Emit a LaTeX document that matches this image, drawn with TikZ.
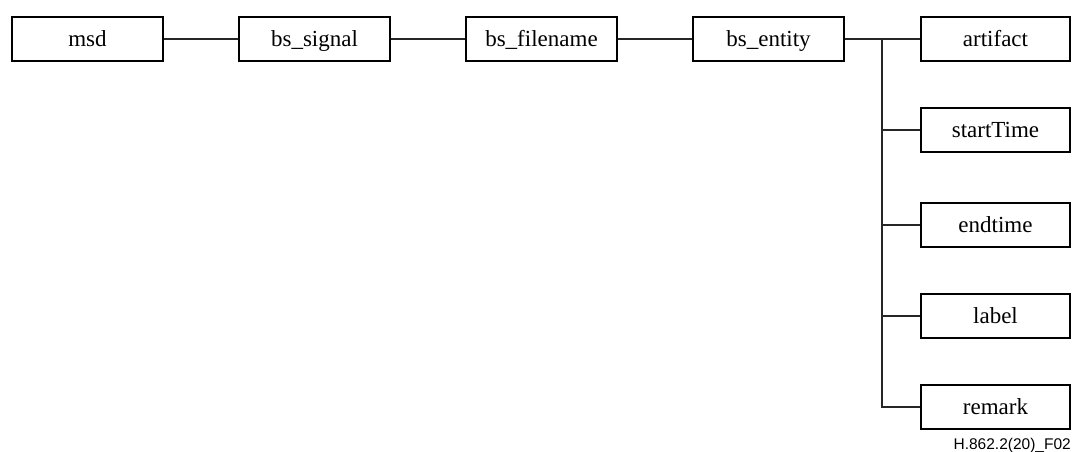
\documentclass[tikz,border=0pt]{standalone}
\usepackage{fontspec}
\setmainfont{Liberation Serif}
\newfontfamily\labelfont{Liberation Sans}
\begin{document}
\begin{tikzpicture}[x=1pt,y=-1pt,
  box/.style={draw=black,line width=2.6pt,minimum width=151pt,minimum height=44pt,inner sep=0pt,text height=20pt,text depth=4.5pt,font=\fontsize{23}{26}\selectfont},
  conn/.style={draw=black!85,line width=1.4pt}]
\useasboundingbox (0,0) rectangle (1072,452);
\node[box] (msd) at (87.5,39) {msd};
\node[box] (sig) at (314.5,39) {bs\_signal};
\node[box] (fn) at (541.5,39) {bs\_filename};
\node[box] (ent) at (768.5,39) {bs\_entity};
\node[box,minimum width=149pt] (art) at (995.5,39) {artifact};
\node[box,minimum width=149pt] (st) at (995.5,130) {startTime};
\node[box,minimum width=149pt] (et) at (995.5,225) {endtime};
\node[box,minimum width=149pt] (lab) at (995.5,316) {label};
\node[box,minimum width=149pt] (rem) at (995.5,407) {remark};
\coordinate (bus) at (882,39);
\path[conn] (msd) -- (sig);
\path[conn] (sig) -- (fn);
\path[conn] (fn) -- (ent);
\path[conn] (ent) -- (art);
\path[conn] (bus) |- (st.west);
\path[conn] (bus) |- (et.west);
\path[conn] (bus) |- (lab.west);
\path[conn] (bus) |- (rem.west);
\node[anchor=base east,inner sep=0pt,font=\labelfont\fontsize{15.5}{17}\selectfont] (fig) at (1071,449) {H.862.2(20)\_F02};
\end{tikzpicture}
\end{document}
